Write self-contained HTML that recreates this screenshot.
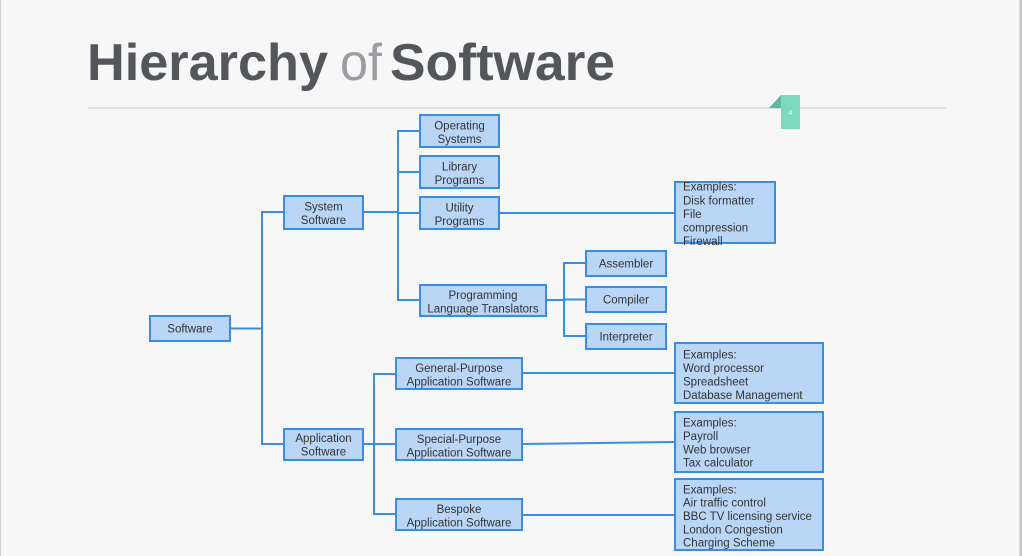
<!DOCTYPE html>
<html>
<head>
<meta charset="utf-8">
<style>
html,body{margin:0;padding:0;background:#f7f7f7;}
body{width:1022px;height:556px;overflow:hidden;position:relative;}
svg{position:absolute;left:0;top:0;}
.t{font-family:"Liberation Sans",Arial,sans-serif;font-size:11.5px;fill:#333;}
</style>
</head>
<body>
<svg width="1022" height="556" viewBox="0 0 1022 556" xmlns="http://www.w3.org/2000/svg">
  <rect x="0" y="0" width="1022" height="556" fill="#f7f7f7"/>
  <rect x="0" y="0" width="1.2" height="556" fill="#d0d0d0"/>
  <rect x="1019.5" y="0" width="2.5" height="556" fill="#c4c4c4"/>

  <!-- Title -->
  <g font-family="'Liberation Sans', Arial, sans-serif" font-size="52">
    <text x="87" y="80" font-weight="bold" fill="#53575c" textLength="241" lengthAdjust="spacingAndGlyphs">Hierarchy</text>
    <text x="340" y="80" fill="#9a9da1" textLength="42" lengthAdjust="spacingAndGlyphs">of</text>
    <text x="390" y="80" font-weight="bold" fill="#53575c" textLength="225" lengthAdjust="spacingAndGlyphs">Software</text>
  </g>
  <line x1="88" y1="108" x2="946" y2="108" stroke="#d6d6d6" stroke-width="1.5"/>

  <!-- page tab -->
  <polygon points="769,108 781,95 781,108" fill="#5fb89f"/>
  <rect x="781" y="95" width="19" height="34" fill="#7dd9be"/>
  <text x="790.5" y="115" font-family="'Liberation Sans', Arial, sans-serif" font-size="7" fill="#ffffff" text-anchor="middle">4</text>

  <!-- connectors -->
  <g stroke="#3a8de4" stroke-width="2" fill="none">
    <line x1="231" y1="328.5" x2="262" y2="328.5"/>
    <line x1="262" y1="212" x2="262" y2="445"/>
    <line x1="261" y1="212" x2="283" y2="212"/>
    <line x1="261" y1="444" x2="283" y2="444"/>

    <line x1="364" y1="212" x2="398" y2="212"/>
    <line x1="398" y1="130" x2="398" y2="301"/>
    <line x1="397" y1="131" x2="419" y2="131"/>
    <line x1="397" y1="172" x2="419" y2="172"/>
    <line x1="397" y1="213" x2="419" y2="213"/>
    <line x1="397" y1="300" x2="419" y2="300"/>

    <line x1="500" y1="213" x2="674" y2="213"/>

    <line x1="547" y1="300" x2="564" y2="300"/>
    <line x1="564" y1="262" x2="564" y2="337"/>
    <line x1="563" y1="263" x2="585" y2="263"/>
    <line x1="563" y1="299.5" x2="585" y2="299.5"/>
    <line x1="563" y1="336" x2="585" y2="336"/>

    <line x1="364" y1="444" x2="374" y2="444"/>
    <line x1="374" y1="373" x2="374" y2="515"/>
    <line x1="373" y1="374" x2="395" y2="374"/>
    <line x1="373" y1="444" x2="395" y2="444"/>
    <line x1="373" y1="514" x2="395" y2="514"/>

    <line x1="523" y1="373" x2="674" y2="373"/>
    <line x1="523" y1="444" x2="674" y2="442"/>
    <line x1="523" y1="515" x2="674" y2="515"/>
  </g>

  <!-- boxes -->
  <g fill="#bad6f6" stroke="#3a8de4" stroke-width="2">
    <rect x="150" y="316" width="80" height="25"/>
    <rect x="284" y="196" width="79" height="33"/>
    <rect x="284" y="429" width="79" height="31"/>
    <rect x="420" y="115" width="79" height="32"/>
    <rect x="420" y="156" width="79" height="32"/>
    <rect x="420" y="197" width="79" height="32"/>
    <rect x="420" y="285" width="126" height="31"/>
    <rect x="586" y="251" width="80" height="25"/>
    <rect x="586" y="287" width="80" height="25"/>
    <rect x="586" y="324" width="80" height="25"/>
    <rect x="396" y="358" width="126" height="31"/>
    <rect x="396" y="429" width="126" height="31"/>
    <rect x="396" y="499" width="126" height="31"/>
    <rect x="675" y="182" width="100" height="61"/>
    <rect x="675" y="343" width="148" height="60"/>
    <rect x="675" y="412" width="148" height="60"/>
    <rect x="675" y="479" width="148" height="71"/>
  </g>

  <!-- box labels -->
  <g class="t" text-anchor="middle">
    <text x="190" y="332.5">Software</text>
    <text x="323.5" y="210.5">System</text>
    <text x="323.5" y="224">Software</text>
    <text x="323.5" y="442">Application</text>
    <text x="323.5" y="455.5">Software</text>
    <text x="459.5" y="129.5">Operating</text>
    <text x="459.5" y="143">Systems</text>
    <text x="459.5" y="170.5">Library</text>
    <text x="459.5" y="184">Programs</text>
    <text x="459.5" y="211.5">Utility</text>
    <text x="459.5" y="225">Programs</text>
    <text x="483" y="299">Programming</text>
    <text x="483" y="312.5">Language Translators</text>
    <text x="626" y="267.5">Assembler</text>
    <text x="626" y="303.5">Compiler</text>
    <text x="626" y="340.5">Interpreter</text>
    <text x="459" y="372">General-Purpose</text>
    <text x="459" y="385.5">Application Software</text>
    <text x="459" y="443">Special-Purpose</text>
    <text x="459" y="456.5">Application Software</text>
    <text x="459" y="513">Bespoke</text>
    <text x="459" y="526.5">Application Software</text>
  </g>

  <!-- examples text -->
  <g class="t">
    <text x="683" y="190.7">Examples:</text>
    <text x="683" y="204.3">Disk formatter</text>
    <text x="683" y="217.9">File</text>
    <text x="683" y="231.5">compression</text>
    <text x="683" y="245">Firewall</text>

    <text x="683" y="358.3">Examples:</text>
    <text x="683" y="371.8">Word processor</text>
    <text x="683" y="385.3">Spreadsheet</text>
    <text x="683" y="398.8">Database Management</text>

    <text x="683" y="426.7">Examples:</text>
    <text x="683" y="440">Payroll</text>
    <text x="683" y="453.4">Web browser</text>
    <text x="683" y="466.7">Tax calculator</text>

    <text x="683" y="493.3">Examples:</text>
    <text x="683" y="506.6">Air traffic control</text>
    <text x="683" y="520">BBC TV licensing service</text>
    <text x="683" y="533.3">London Congestion</text>
    <text x="683" y="546.7">Charging Scheme</text>
  </g>
</svg>
</body>
</html>
